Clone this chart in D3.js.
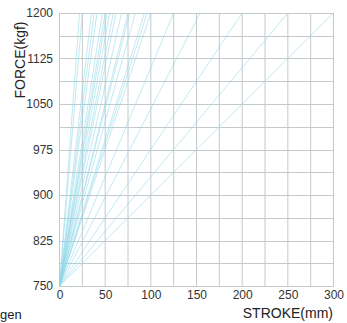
<!DOCTYPE html>
<html><head><meta charset="utf-8">
<script src="https://cdn.jsdelivr.net/npm/d3@7"></script>
<style>body{margin:0;background:#fff}svg{display:block}text{font-family:"Liberation Sans",Arial,sans-serif}</style>
</head><body>
<script>
// Stroke (mm) at which each line reaches the top force of 1200 kgf
const lineEnds = [22, 25, 35, 38, 41, 47, 50, 52, 55, 59, 62, 68, 75, 77, 83, 93, 96, 100, 125, 154, 200, 250, 300];
const startForce = 750;
const endForce = 1200;
const xTicks = [0, 50, 100, 150, 200, 250, 300];
const yTicks = [750, 825, 900, 975, 1050, 1125, 1200];
const xGrid = d3.range(0, 301, 25);
const yGrid = d3.range(750, 1201, 37.5);

const W = 347, H = 323;
const m = {left: 59, right: 14, top: 13, bottom: 37};
const svg = d3.select("body").append("svg").attr("width", W).attr("height", H);
const x = d3.scaleLinear().domain([0, 300]).range([m.left, W - m.right]);
const y = d3.scaleLinear().domain([750, 1200]).range([H - m.bottom, m.top]);

const g = svg.append("g");
g.selectAll(".vg").data(xGrid).join("line")
  .attr("x1", d => x(d) + 0.5).attr("x2", d => x(d) + 0.5)
  .attr("y1", y(1200)).attr("y2", y(750))
  .attr("stroke", "#c4c9cc").attr("stroke-width", 1);
g.selectAll(".hg").data(yGrid).join("line")
  .attr("y1", d => Math.round(y(d)) + 0.5).attr("y2", d => Math.round(y(d)) + 0.5)
  .attr("x1", x(0)).attr("x2", x(300) + 1)
  .attr("stroke", "#c4c9cc").attr("stroke-width", 1);

g.selectAll(".ln").data(lineEnds).join("line")
  .attr("x1", x(0) + 0.5).attr("y1", y(startForce))
  .attr("x2", d => x(d) + 0.5).attr("y2", y(endForce))
  .attr("stroke", "#8fd6e8").attr("stroke-width", 0.55);

svg.selectAll(".yl").data(yTicks).join("text")
  .attr("x", 53).attr("y", d => y(d) + 4)
  .attr("text-anchor", "end").attr("font-size", 12).attr("fill", "#333")
  .text(d => d);
svg.selectAll(".xl").data(xTicks).join("text")
  .attr("x", d => x(d) + 1).attr("y", H - m.bottom + 13)
  .attr("text-anchor", "middle").attr("font-size", 12).attr("fill", "#333")
  .text(d => d);

svg.append("text").attr("x", 333).attr("y", 318).attr("text-anchor", "end")
  .attr("font-size", 14).attr("fill", "#222").text("STROKE(mm)");
svg.append("text").attr("transform", "translate(25,60) rotate(-90)")
  .attr("text-anchor", "middle").attr("font-size", 14).attr("fill", "#222").text("FORCE(kgf)");
svg.append("text").attr("x", 0).attr("y", 319).attr("font-size", 13).attr("fill", "#222").text("gen");
</script>
</body></html>
